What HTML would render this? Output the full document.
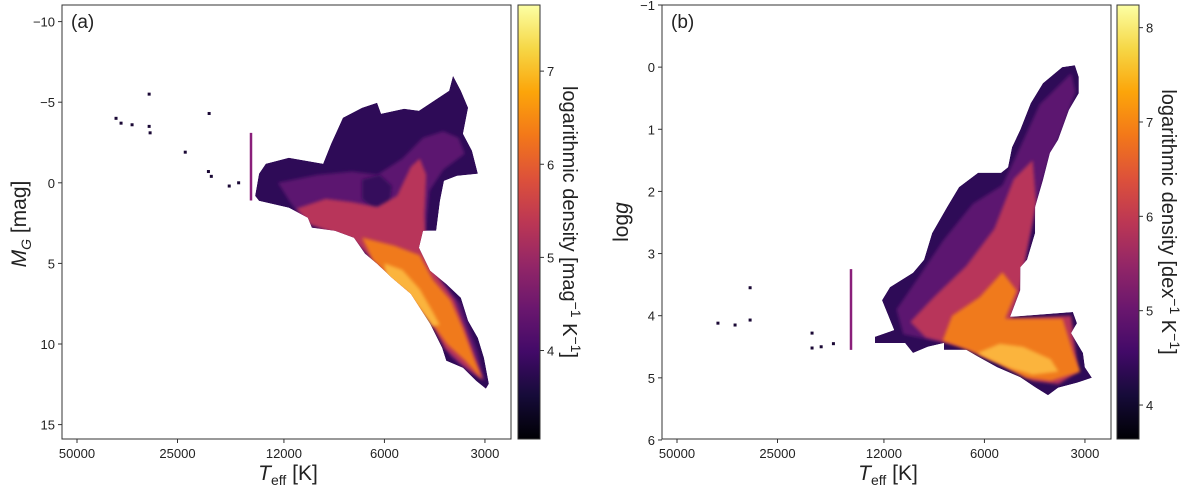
<!DOCTYPE html>
<html><head><meta charset="utf-8"><style>
html,body{margin:0;padding:0;background:#fff;}
svg text{font-family:"Liberation Sans",sans-serif;fill:#222;}
</style></head><body>
<svg id="fig" width="1200" height="488" viewBox="0 0 1200 488" xmlns="http://www.w3.org/2000/svg">
<defs>
<linearGradient id="inferno" x1="0" y1="1" x2="0" y2="0">
<stop offset="0" stop-color="#000004"/><stop offset="0.1" stop-color="#160b39"/><stop offset="0.2" stop-color="#420a68"/><stop offset="0.3" stop-color="#6a176e"/><stop offset="0.4" stop-color="#932667"/><stop offset="0.5" stop-color="#bc3754"/><stop offset="0.6" stop-color="#dd513a"/><stop offset="0.7" stop-color="#f37819"/><stop offset="0.8" stop-color="#fca50a"/><stop offset="0.9" stop-color="#f6d746"/><stop offset="1" stop-color="#fcffa4"/>
</linearGradient>
<filter id="soft" x="-10%" y="-10%" width="120%" height="120%"><feGaussianBlur stdDeviation="1.6"/></filter>
</defs>
</svg>
<script>
// ---------- Panel (a) data: Teff [K], M_G [mag] ----------
const aOuter=[[14250,-0.56],[13600,-1.18],[11600,-1.55],[9160,-1.18],[8670,-2.42],[7990,-4.03],[7000,-4.65],[6310,-4.96],[6140,-4.28],[5240,-4.59],[4730,-4.47],[3840,-5.71],[3740,-6.64],[3540,-5.71],[3370,-4.65],[3490,-3.04],[3280,-1.99],[3150,-0.56],[3640,-0.43],[3980,-0.12],[4090,1.12],[4200,2.98],[4600,2.98],[4730,4.03],[4380,5.46],[3920,6.27],[3540,7.13],[3370,8.56],[3150,9.62],[3020,10.86],[2920,12.47],[2980,12.78],[3190,12.28],[3490,11.48],[3920,11.04],[4030,10.24],[4380,8.75],[5000,6.89],[5700,5.89],[6310,5.02],[6860,4.40],[7400,3.41],[8440,2.98],[9900,2.79],[10170,2.17],[11600,1.55],[14250,1.12],[14640,0.81]];
const aMid=[[12500,0.0],[9500,-0.5],[7500,-0.7],[6300,-0.5],[5300,-1.5],[4600,-2.8],[4000,-3.2],[3600,-2.8],[3450,-1.8],[4000,-0.8],[4400,0.5],[4550,3.5],[4400,5.3],[3900,6.5],[3550,7.5],[3350,9.0],[3150,10.5],[3000,12.3],[3300,11.8],[3800,10.8],[4200,8.7],[4900,7.0],[5700,6.0],[6500,5.0],[7200,3.7],[8500,3.1],[10500,2.3],[11500,1.2]];
const aMagenta=[[11000,1.6],[9000,1.0],[7500,1.2],[6300,1.5],[5500,0.8],[5000,-1.0],[4700,-1.5],[4500,-0.5],[4550,2.0],[4500,4.5],[4100,6.0],[3700,7.3],[3450,9.0],[3250,10.5],[3050,12.2],[3500,11.3],[3950,10.3],[4400,8.5],[5100,6.8],[5900,5.7],[6700,4.5],[7500,3.5],[8800,3.0],[10000,2.6]];
const aOrange=[[7000,3.4],[5600,3.9],[4700,4.5],[4300,6.0],[3800,7.3],[3500,9.0],[3250,10.8],[3050,12.2],[3450,11.0],[3900,10.0],[4400,8.5],[5100,6.9],[5800,5.8],[6500,4.8]];
const aYellow=[[6000,5.0],[5300,5.4],[4700,6.6],[4300,8.0],[4100,8.8],[4300,8.9],[4700,7.8],[5200,6.7],[5900,6.0]];
const aDarkSpot=[[7000,-0.2],[6200,-0.5],[5700,0.2],[5800,1.4],[6500,1.6],[7000,1.0]];
const aDots=[[38200,-4.0],[36900,-3.7],[34200,-3.6],[30400,-5.5],[30400,-3.5],[30200,-3.1],[23700,-1.9],[20100,-4.3],[20200,-0.7],[19800,-0.4],[17500,0.2],[16400,0.0]];
const aLine=[[15060,-3.1],[15060,1.1]];
const aYTicks=[-10,-5,0,5,10,15];
const aCbTicks=[4,5,6,7];
// ---------- Panel (b) data: Teff [K], log g ----------
const bOuter=[[3215,-0.03],[3130,0.16],[3130,0.42],[3350,0.69],[3610,1.17],[3820,1.38],[4010,1.82],[4230,2.25],[4230,2.67],[4470,3.10],[4690,3.22],[4690,3.59],[5030,4.02],[3260,3.94],[3170,4.12],[3300,4.28],[3040,4.60],[3000,4.83],[2860,5.00],[3170,5.08],[3610,5.16],[3870,5.28],[4230,5.15],[4690,4.99],[5500,4.83],[6270,4.66],[6800,4.55],[7930,4.55],[7930,4.44],[8860,4.50],[9820,4.60],[10380,4.44],[12760,4.44],[12760,4.34],[11190,4.23],[12160,3.75],[11510,3.54],[9820,3.31],[9100,3.10],[8610,2.67],[7760,2.25],[7150,1.93],[6270,1.70],[5350,1.70],[5100,1.61],[4960,1.29],[4690,1.01],[4360,0.58],[4010,0.26],[3510,0.0]];
const bMid=[[3300,0.1],[3200,0.4],[3500,1.0],[3900,1.6],[4200,2.2],[4500,3.0],[4700,3.5],[4900,4.0],[5200,4.3],[6500,4.5],[8500,4.4],[10500,4.3],[11000,3.9],[9500,3.4],[8000,2.8],[6500,2.2],[5300,1.9],[4700,1.3],[4100,0.6]];
const bMagenta=[[4300,1.5],[4200,2.2],[4500,3.0],[4700,3.6],[5000,4.05],[3300,4.0],[3150,4.9],[3600,5.1],[4300,5.05],[5500,4.75],[7000,4.5],[9000,4.35],[10000,4.1],[8500,3.7],[6800,3.2],[5600,2.6],[4900,1.8]];
const bOrange=[[4800,3.6],[5200,4.05],[3500,4.05],[3250,4.6],[3100,4.9],[3800,5.05],[4500,5.0],[5500,4.75],[6700,4.55],[8000,4.4],[7500,4.0],[6200,3.7],[5300,3.3]];
const bYellow=[[5400,4.45],[4600,4.5],[3800,4.7],[3600,4.9],[4300,4.95],[5000,4.85],[5800,4.7],[6300,4.6]];
const bDots=[[37700,4.12],[33500,4.15],[30200,3.55],[30200,4.07],[19700,4.28],[19700,4.52],[18500,4.5],[17000,4.45]];
const bLine=[[15060,3.25],[15060,4.55]];
const bYTicks=[-1,0,1,2,3,4,5,6];
const bCbTicks=[4,5,6,7,8];
const xTicks=[50000,25000,12000,6000,3000];

const NS="http://www.w3.org/2000/svg";
const svg=document.getElementById('fig');
const defs=svg.querySelector('defs');
function mk(tag,attrs,parent){const e=document.createElementNS(NS,tag);for(const k in attrs)e.setAttribute(k,attrs[k]);(parent||svg).appendChild(e);return e;}

function panel(o){
  const g=mk('g',{});
  
  
  const X=t=>o.x0+145*Math.log(50000/t);
  const Y=v=>o.top+(v-o.yTop)*o.ppu;
  const pts=arr=>arr.map(p=>X(p[0]).toFixed(1)+','+Y(p[1]).toFixed(1)).join(' ');
  const cp=mk('clipPath',{id:'clip-'+o.name},defs);
  mk('polygon',{points:pts(o.outer)},cp);
  const layers=[[o.outer,'#2e0b57','density-outer',false],[o.mid,'#5c1870','density-mid',true],[o.dark||null,'#34105c','density-dark-patch',true],[o.mag,'#b8365a','density-magenta',true],[o.orange,'#f07a1e','density-orange',true],[o.yellow,'#fbb43c','density-yellow',true]];
  const inner=mk('g',{'clip-path':'url(#clip-'+o.name+')'},g);
  layers.forEach(L=>{ if(!L[0])return;
    const p=mk('polygon',{points:pts(L[0]),fill:L[1]},inner);
    if(L[3])p.setAttribute('filter','url(#soft)');
    
    
  });
  o.dots.forEach(d=>{
    const r=mk('rect',{x:X(d[0])-1.5,y:Y(d[1])-1.5,width:3,height:3,fill:'#1a0835'},g);
    
    
  });
  const ln=mk('line',{x1:X(o.line[0][0]),y1:Y(o.line[0][1]),x2:X(o.line[1][0]),y2:Y(o.line[1][1]),stroke:'#8a1f7a','stroke-width':2.5},g);
  
  
  const fr=mk('rect',{x:o.x0-15,y:o.top,width:o.w,height:o.h,fill:'none',stroke:'#333','stroke-width':1},g);
  
  
  xTicks.forEach(t=>{const x=X(t);
    mk('line',{x1:x,y1:o.top+o.h,x2:x,y2:o.top+o.h+4,stroke:'#333'},g);
    const tx=mk('text',{x:x,y:o.top+o.h+19,'text-anchor':'middle','font-size':13},g);tx.textContent=t;
    
    
  });
  o.yTicks.forEach(v=>{const y=Y(v);
    mk('line',{x1:o.x0-15,y1:y,x2:o.x0-19,y2:y,stroke:'#333'},g);
    const tx=mk('text',{x:o.x0-22,y:y+5,'text-anchor':'end','font-size':13},g);tx.textContent=v<0?'\u2212'+(-v):v;
    
    
  });
  const cb=mk('rect',{x:o.cbx,y:o.top,width:22,height:o.h,fill:'url(#inferno)',stroke:'#333','stroke-width':1},g);
  
  
  const CY=v=>o.top+o.h-(v-o.cbMin)/(o.cbMax-o.cbMin)*o.h;
  o.cbTicks.forEach(v=>{const y=CY(v);
    mk('line',{x1:o.cbx+22,y1:y,x2:o.cbx+26,y2:y,stroke:'#333'},g);
    const tx=mk('text',{x:o.cbx+29,y:y+5,'font-size':13},g);tx.textContent=v;
    
    
  });
  return g;
}
panel({name:'panel-a',x0:77,top:5,w:449,h:434,yTop:-11.03,ppu:16.12,outer:aOuter,mid:aMid,dark:aDarkSpot,mag:aMagenta,orange:aOrange,yellow:aYellow,dots:aDots,line:aLine,yTicks:aYTicks,cbx:518,cbMin:3.05,cbMax:7.71,cbTicks:aCbTicks});
panel({name:'panel-b',x0:677,top:5,w:449,h:434,yTop:-1,ppu:62.14,outer:bOuter,mid:bMid,mag:bMagenta,orange:bOrange,yellow:bYellow,dots:bDots,line:bLine,yTicks:bYTicks,cbx:1117,cbMin:3.64,cbMax:8.24,cbTicks:bCbTicks});
</script>
<svg width="1200" height="488" style="position:absolute;left:0;top:0">
<text x="71" y="28" font-size="19">(a)</text>
<text x="671" y="28" font-size="19">(b)</text>
<text transform="translate(26,224) rotate(-90)" text-anchor="middle" font-size="21"><tspan font-style="italic">M</tspan><tspan font-size="14" font-style="italic" dy="5">G</tspan><tspan dy="-5"> [mag]</tspan></text>
<text transform="translate(628,222) rotate(-90)" text-anchor="middle" font-size="21">log<tspan font-style="italic">g</tspan></text>
<text x="288" y="480" text-anchor="middle" font-size="21"><tspan font-style="italic">T</tspan><tspan font-size="14" dy="5">eff</tspan><tspan dy="-5"> [K]</tspan></text>
<text x="888" y="480" text-anchor="middle" font-size="21"><tspan font-style="italic">T</tspan><tspan font-size="14" dy="5">eff</tspan><tspan dy="-5"> [K]</tspan></text>
<text transform="translate(563,222) rotate(90)" text-anchor="middle" font-size="20">logarithmic density [mag<tspan font-size="14" dy="-8">−1</tspan><tspan dy="8"> K</tspan><tspan font-size="14" dy="-8">−1</tspan><tspan dy="8">]</tspan></text>
<text transform="translate(1162,222) rotate(90)" text-anchor="middle" font-size="20">logarithmic density [dex<tspan font-size="14" dy="-8">−1</tspan><tspan dy="8"> K</tspan><tspan font-size="14" dy="-8">−1</tspan><tspan dy="8">]</tspan></text>
</svg>
</body></html>
